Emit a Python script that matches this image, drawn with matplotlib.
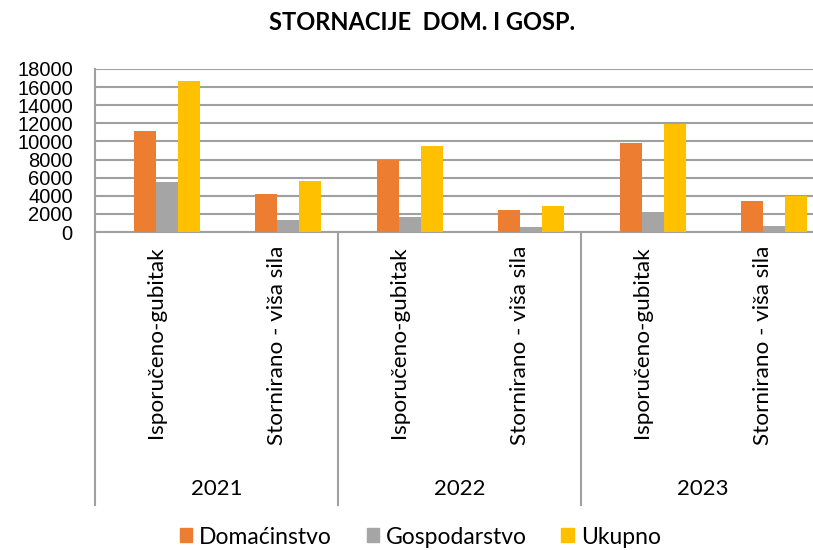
import numpy as np
import matplotlib.pyplot as plt
import matplotlib.transforms as mtransforms
from matplotlib.patches import Patch

# ---- data ----
godine = ['2021', '2022', '2023']
kategorije = ['Isporučeno-gubitak', 'Stornirano - viša sila'] * 3
serije = ['Domaćinstvo', 'Gospodarstvo', 'Ukupno']
domacinstvo = [11200, 4170, 7930, 2430, 9780, 3400]
gospodarstvo = [5500, 1370, 1630, 550, 2180, 710]
ukupno = [16700, 5640, 9510, 2840, 11910, 4030]
boje = ['#ED7D31', '#A5A5A5', '#FFC000']
yticks = list(range(0, 18001, 2000))

W, H = 813, 550
fig = plt.figure(figsize=(W / 100, H / 100), dpi=100)
ax = fig.add_axes([95 / W, 1 - 232 / H, (824 - 95) / W, (232 - 69) / H])

# 4 slots per category (first slot is an empty series, as in the Excel source)
x = np.arange(len(kategorije)) + 0.5
w = 22 / 121.5
for k, (vals, c) in enumerate(zip([domacinstvo, gospodarstvo, ukupno], boje)):
    ax.bar(x + (k - 0.5) * w, vals, width=w, color=c, zorder=3)

ax.set_xlim(0, len(kategorije))
ax.set_ylim(0, 18000)
ax.set_yticks(yticks)
ax.set_yticklabels([str(v) for v in yticks], family='Liberation Sans', fontsize=14.5)
ax.tick_params(axis='y', length=0, pad=16)
ax.set_xticks([])
ax.yaxis.grid(True, color='#A0A0A0', linewidth=1.5, zorder=0)
for s in ['top', 'right']:
    ax.spines[s].set_visible(False)
for s in ['left', 'bottom']:
    ax.spines[s].set_color('#A0A0A0')
    ax.spines[s].set_linewidth(1.5)

# ---- multi-level category axis ----
tr = mtransforms.blended_transform_factory(ax.transData, fig.transFigure)
for g in range(len(godine) + 1):
    ax.plot([2 * g, 2 * g], [1 - 232 / H, 1 - 505 / H], color='#A0A0A0',
            linewidth=1.5, transform=tr, clip_on=False)
for i, lab in enumerate(kategorije):
    ax.text(x[i], 1 - 246 / H, lab, rotation=90, ha='center', va='top',
            family='Lato', fontsize=16.2, transform=tr)
for g, god in enumerate(godine):
    ax.text(2 * g + 1, 1 - 489 / H, god, ha='center', va='center',
            family='Lato', fontsize=16, transform=tr)

fig.text(0.519, 1 - 23 / H, 'STORNACIJE  DOM. I GOSP.', ha='center', va='center',
         family='Lato', fontweight='bold', fontsize=17)

handles = [Patch(color=c, label=s) for s, c in zip(serije, boje)]
fig.legend(handles=handles, loc='center', bbox_to_anchor=(0.517, 1 - 537 / H), ncol=3,
           frameon=False, prop={'family': 'Lato', 'size': 16.5}, handlelength=0.55,
           handleheight=0.55, handletextpad=0.3, columnspacing=1.5)

fig.savefig('out.png', dpi=100)
